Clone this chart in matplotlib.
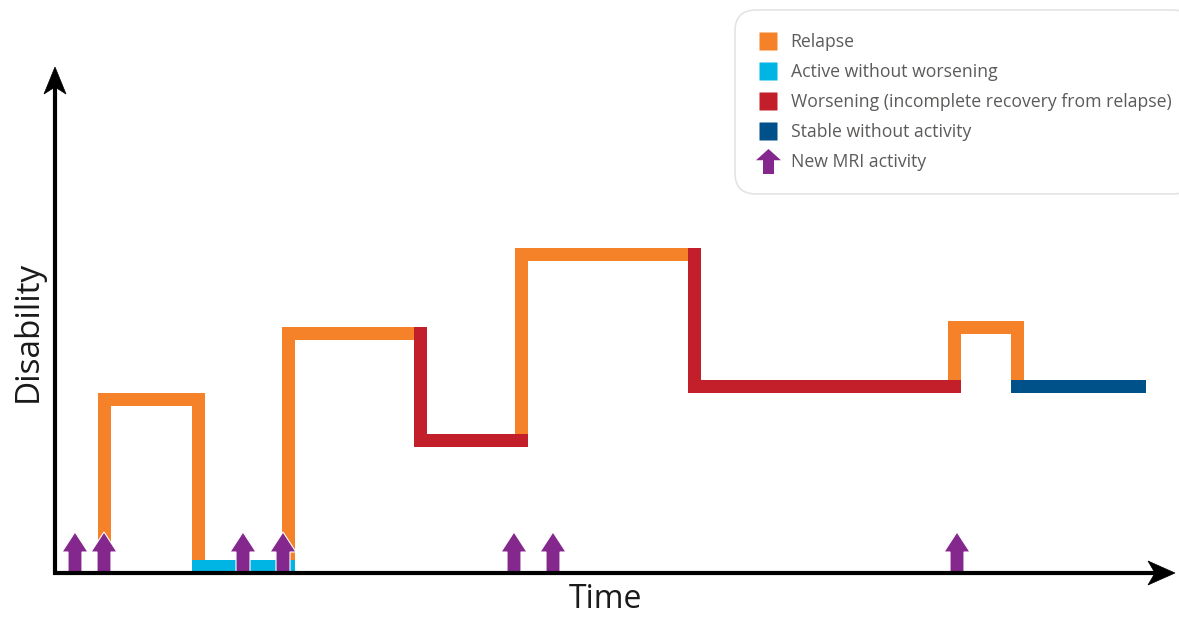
import matplotlib
matplotlib.use("Agg")
import matplotlib.pyplot as plt
from matplotlib.lines import Line2D
from matplotlib.patches import Polygon

plt.rcParams["font.family"] = ["Open Sans", "DejaVu Sans"]

# disease course: step path (time, disability) and the state of each edge
path_t = [4.9, 4.9, 14.3, 14.3, 23.3, 23.3, 36.5, 36.5, 46.6, 46.6,
          63.9, 63.9, 89.9, 89.9, 96.2, 96.2, 108.4]
path_d = [0.7, 17.4, 17.4, 0.7, 0.7, 24.0, 24.0, 13.3, 13.3, 31.9,
          31.9, 18.7, 18.7, 24.6, 24.6, 18.7, 18.7]
edge_state = ["R", "R", "R", "A", "R", "R", "W", "W", "R", "R",
              "W", "W", "R", "R", "R", "S"]
mri_times = [2.0, 4.9, 18.8, 22.8, 45.9, 49.8, 90.2]

state_labels = {"R": "Relapse", "A": "Active without worsening",
                "W": "Worsening (incomplete recovery from relapse)",
                "S": "Stable without activity"}
state_colors = {"R": "#F58228", "A": "#00B4E4", "W": "#C21F2A", "S": "#00508A"}
mri_color = "#85288E"
text_grey = "#5d5b5a"

fig = plt.figure(figsize=(11.79, 6.18), dpi=100)
ax = fig.add_axes([0, 0, 1, 1])
ax.set_xlim(-5.5, 112.4)
ax.set_ylim(-4.5, 57.3)
ax.axis("off")

lw = 13 * 72 / 100  # 13 px wide strokes

# group consecutive edges with the same state into polylines
runs = []
start = 0
for i in range(1, len(edge_state) + 1):
    if i == len(edge_state) or edge_state[i] != edge_state[start]:
        runs.append((edge_state[start], start, i))
        start = i
for order in (["R"], ["A", "W", "S"]):
    for st, a, b in runs:
        if st in order:
            ax.plot(path_t[a:b + 1], path_d[a:b + 1], color=state_colors[st],
                    lw=lw, solid_capstyle="projecting",
                    solid_joinstyle="miter", zorder=2)

# new MRI activity arrows
for t in mri_times:
    ax.arrow(t, 0, 0, 4.1, width=1.4, head_width=2.6, head_length=2.0,
             length_includes_head=True, fc=mri_color, ec="white", lw=0.8,
             zorder=3)

# axes with arrow heads
x_end, y_end = 112.0, 50.6
ax.plot([0, 0], [-0.2, y_end - 1.5], color="black", lw=3, zorder=4,
        solid_capstyle="butt")
ax.plot([-0.2, x_end - 1.5], [0, 0], color="black", lw=3, zorder=4,
        solid_capstyle="butt")
ax.add_patch(Polygon([(x_end, 0), (x_end - 2.7, 1.2), (x_end - 2.0, 0),
                      (x_end - 2.7, -1.2)], closed=True, fc="black",
                     ec="black", lw=0.5, zorder=4))
ax.add_patch(Polygon([(0, y_end), (1.1, y_end - 2.7), (0, y_end - 2.0),
                      (-1.1, y_end - 2.7)], closed=True, fc="black",
                     ec="black", lw=0.5, zorder=4))

ax.text(55.0, -2.7, "Time", ha="center", va="center", fontsize=23,
        color="#1a1a1a")
ax.text(-2.7, 24.2, "Disability", ha="center", va="center", fontsize=24,
        rotation=90, color="#1a1a1a")

# legend
arrow_marker = [(-0.5, 0.05), (0, 0.5), (0.5, 0.05), (0.22, 0.05),
                (0.22, -0.5), (-0.22, -0.5), (-0.22, 0.05)]
handles = [Line2D([], [], ls="none", marker="s", markersize=12.5,
                  markerfacecolor=state_colors[k], markeredgecolor="none",
                  label=state_labels[k]) for k in ["R", "A", "W", "S"]]
handles.append(Line2D([], [], ls="none", marker=arrow_marker, markersize=18,
                      markerfacecolor=mri_color, markeredgecolor="none",
                      label="New MRI activity"))
leg = ax.legend(handles=handles, loc="upper left",
                bbox_to_anchor=(735 / 1179, 1 - 10 / 618), fontsize=12.7,
                labelcolor=text_grey, frameon=True, fancybox=True,
                edgecolor="#dddddd", handlelength=1.1, handletextpad=0.75,
                labelspacing=0.68, borderpad=1.3, borderaxespad=0)
leg.get_frame().set_linewidth(1.2)
leg.get_frame().set_boxstyle("round,pad=0,rounding_size=1.2")

fig.savefig("out.png", dpi=100)
